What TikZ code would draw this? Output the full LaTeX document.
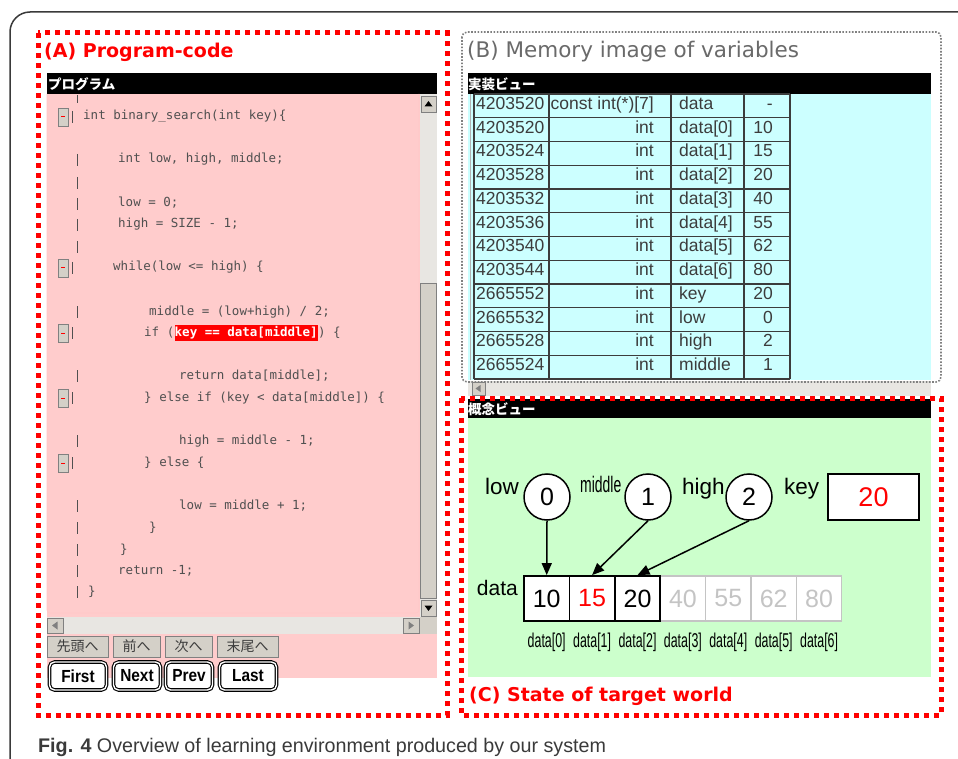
\documentclass[tikz,border=0pt]{standalone}
\usepackage{graphicx}
\usepackage{fontspec}
\setmainfont{Liberation Sans}
\newfontfamily\cjkfont{Noto Sans CJK JP}
\newfontfamily\codefont{DejaVu Sans Mono}
\newfontfamily\titlefont{DejaVu Sans}
\usetikzlibrary{arrows.meta}

\definecolor{pinkbg}{HTML}{FFCCCC}
\definecolor{cyanbg}{HTML}{CCFFFF}
\definecolor{greenbg}{HTML}{CCFFCC}
\definecolor{track}{HTML}{E8E6E2}
\definecolor{btn}{HTML}{D4D0C8}
\definecolor{btnedge}{HTML}{808080}
\definecolor{codegray}{HTML}{505050}
\definecolor{tablegray}{HTML}{3C3C3C}
\definecolor{titlegray}{HTML}{6A6A6A}
\definecolor{faded}{HTML}{C4C4C4}
\definecolor{framegray}{HTML}{3A3A3A}

\newcommand\narrowlabel[1]{\scalebox{0.62}[1]{#1}}

\tikzset{
  reddots/.style={draw=red, line width=5pt, dash pattern=on 5pt off 5pt},
  graydots/.style={draw=gray, line width=1.6pt, dash pattern=on 1.6pt off 1.6pt, rounded corners=5pt},
  barlabel/.style={anchor=west, inner sep=0pt, text=white, font=\cjkfont\bfseries\fontsize{13.5}{14}\selectfont},
  codeline/.style={anchor=west, inner sep=0pt, text height=9pt, text depth=3pt, text=codegray, font=\codefont\fontsize{12.5}{13}\selectfont},
  codebar/.style={draw=codegray, line width=0.9pt},
  foldbox/.style={draw=btnedge, fill=btn, line width=0.8pt},
  sbtrack/.style={fill=track},
  sbbutton/.style={fill=btn, draw=btnedge, line width=0.6pt},
  jpbutton/.style={fill=btn, draw=btnedge, line width=0.8pt, minimum height=21pt, inner sep=0pt, text=tablegray, font=\cjkfont\fontsize{14}{14}\selectfont},
  navbutton/.style={draw=black, double=white, double distance=1.4pt, line width=1.1pt, rounded corners=5pt, fill=white, minimum height=28pt, inner sep=0pt, font=\bfseries\fontsize{17.5}{17.5}\selectfont},
  celltext/.style={text height=9pt, text depth=3pt, inner sep=0pt, text=tablegray, font=\fontsize{17.5}{18}\selectfont},
  circ/.style={circle, draw=black, line width=1.5pt, fill=white, minimum size=46pt, inner sep=0pt, font=\fontsize{25}{25}\selectfont},
  cell/.style={draw=black, line width=1.8pt, fill=white, minimum width=45.4pt, minimum height=45pt, inner sep=0pt, font=\fontsize{25}{25}\selectfont},
  fadedcell/.style={cell, draw=faded, line width=1.2pt, text=faded},
  varname/.style={inner sep=0pt, font=\fontsize{22.5}{22.5}\selectfont},
  idxlabel/.style={inner sep=0pt, font=\fontsize{20}{20}\selectfont},
  pointer/.style={-{Triangle[length=12pt,width=10pt]}, line width=1.5pt},
  paneltitle/.style={anchor=west, inner sep=0pt, font=\titlefont\fontsize{19}{20}\selectfont}
}

\begin{document}
\begin{tikzpicture}[x=1pt,y=-1pt]
\useasboundingbox (0,0) rectangle (958,759);
\fill[white] (0,0) rectangle (958,759);

% outer figure frame, open to the right and bottom
\draw[framegray, line width=1.5pt, rounded corners=20pt] (10,765) -- (10,12) -- (965,12);

% ---------------- (A) program code window ----------------
\fill[pinkbg] (47,94) rectangle (437,678);
\fill[black] (47,73) rectangle (437,94);
\node[barlabel] (progbar) at (48,84) {プログラム};

% vertical scrollbar
\fill[sbtrack] (420,94) rectangle (437,617);
\draw[sbbutton] (421,96) rectangle (436,112);
\fill[black] (428.5,101) -- (424.5,106.5) -- (432.5,106.5) -- cycle;
\draw[fill=btn, draw=btnedge, line width=0.6pt] (420.5,283) rectangle (436,598);
\draw[sbbutton] (421,600) rectangle (436,616);
\fill[black] (428.5,611) -- (424.5,605.5) -- (432.5,605.5) -- cycle;
% horizontal scrollbar
\fill[sbtrack] (47,617) rectangle (420,634);
\fill[btn] (420,617) rectangle (437,634);
\draw[sbbutton] (47.5,618) rectangle (63,633);
\fill[gray] (52,625.5) -- (57.5,621.5) -- (57.5,629.5) -- cycle;
\draw[sbbutton] (403,618) rectangle (419,633);
\fill[gray] (414,625.5) -- (408.5,621.5) -- (408.5,629.5) -- cycle;
\draw[draw=pinkbg!80!red!60, line width=0.6pt, rounded corners=3pt] (47,94) -- (47,613) -- (419,613) -- (419,94);

% gutter marks
\draw[codebar] (77,95) -- (77,103);
\foreach \yy in {117,268,333,398,463} {
  \draw[foldbox] (58,\yy-9) rectangle (68,\yy+9);
  \draw[red, line width=1pt] (61,\yy) -- (65,\yy);
  \draw[codebar] (72,\yy-6) -- (72,\yy+6);
}
\foreach \yy in {160,183,204,225,247,312,376,441,506,528,550,571,592} {
  \draw[codebar] (77,\yy-6) -- (77,\yy+6);
}

% source lines
\node[codeline] (l01) at (83,117) {int binary\_search(int key)\{};
\node[codeline] (l02) at (118,160) {int low, high, middle;};
\node[codeline] (l03) at (118,204) {low = 0;};
\node[codeline] (l04) at (118,225) {high = SIZE - 1;};
\node[codeline] (l05) at (113,268) {while(low <= high) \{};
\node[codeline] (l06) at (149,312) {middle = (low+high) / 2;};
\node[codeline] (l07) at (144,333) {if (};
\node[codeline, fill=red, text=white, inner ysep=2pt, font=\codefont\bfseries\fontsize{12.5}{13}\selectfont] (hl) at (l07.east) {key == data[middle]};
\node[codeline] (l07b) at (hl.east) {) \{};
\node[codeline] (l08) at (179,376) {return data[middle];};
\node[codeline] (l09) at (144,398) {\} else if (key < data[middle]) \{};
\node[codeline] (l10) at (179,441) {high = middle - 1;};
\node[codeline] (l11) at (144,463) {\} else \{};
\node[codeline] (l12) at (179,506) {low = middle + 1;};
\node[codeline] (l13) at (149,528) {\}};
\node[codeline] (l14) at (120,550) {\}};
\node[codeline] (l15) at (118,571) {return -1;};
\node[codeline] (l16) at (88,592) {\}};

% navigation buttons
\node[jpbutton, minimum width=61pt] (jfirst) at (77.5,646.5) {先頭へ};
\node[jpbutton, minimum width=47pt] (jprev) at (136.5,646.5) {前へ};
\node[jpbutton, minimum width=47pt] (jnext) at (188.5,646.5) {次へ};
\node[jpbutton, minimum width=61pt] (jlast) at (247.5,646.5) {末尾へ};
\node[navbutton, minimum width=57pt] (bfirst) at (78,676) {\scalebox{0.88}[1]{First}};
\node[navbutton, minimum width=47pt] (bnext) at (137,676) {\scalebox{0.88}[1]{Next}};
\node[navbutton, minimum width=47pt] (bprev) at (189,676) {\scalebox{0.88}[1]{Prev}};
\node[navbutton, minimum width=57pt] (blast) at (248,676) {\scalebox{0.88}[1]{Last}};

\draw[reddots] (38,33) rectangle (447,715);
\node[paneltitle, text=red, font=\titlefont\bfseries\fontsize{19}{20}\selectfont] (titleA) at (44,52) {(A) Program-code};

% ---------------- (B) memory image ----------------
\fill[black] (468,73) rectangle (931,94);
\node[barlabel] (implbar) at (468,84) {実装ビュー};
\fill[cyanbg] (468,94) rectangle (931,380);
\draw[gray!60, line width=0.8pt] (470,94) -- (470,380);
\fill[sbtrack] (468,381) rectangle (931,396);
\draw[sbbutton] (472,382) rectangle (485,395);
\fill[gray] (475.5,388.5) -- (480.5,385) -- (480.5,392) -- cycle;

\foreach \i/\addr/\typ/\nm/\val in {
  0/4203520/{const int(*)[7]}/data/-,
  1/4203520/int/{data[0]}/10,
  2/4203524/int/{data[1]}/15,
  3/4203528/int/{data[2]}/20,
  4/4203532/int/{data[3]}/40,
  5/4203536/int/{data[4]}/55,
  6/4203540/int/{data[5]}/62,
  7/4203544/int/{data[6]}/80,
  8/2665552/int/key/20,
  9/2665532/int/low/0,
  10/2665528/int/high/2,
  11/2665524/int/middle/1} {
  \pgfmathsetmacro\yc{94+23.75*\i+12.4}
  \node[celltext, anchor=west] (addr\i) at (476,\yc) {\addr};
  \node[celltext, anchor=east] (type\i) at (654,\yc) {\typ};
  \node[celltext, anchor=west] (name\i) at (679,\yc) {\nm};
  \node[celltext, anchor=east] (val\i) at (773,\yc) {\val};
}
\foreach \k in {0,...,12} {
  \draw[tablegray, line width=1.3pt] (474,94+23.75*\k) -- (790,94+23.75*\k);
}
\foreach \xx in {474,549,671,744,790} {
  \draw[tablegray, line width=1.3pt] (\xx,94) -- (\xx,379);
}

\draw[graydots] (462,32) rectangle (941,382);
\node[paneltitle, text=titlegray, font=\titlefont\fontsize{21.5}{22}\selectfont] (titleB) at (467,52) {(B) Memory image of variables};

% ---------------- (C) state of target world ----------------
\fill[black] (468,399) rectangle (931,418);
\node[barlabel] (conbar) at (468,409) {概念ビュー};
\fill[greenbg] (468,418) rectangle (931,677);

% array cells
\foreach \k/\v in {3/40,4/55,5/62,6/80} {
  \node[fadedcell] (d\k) at (546.7+45.4*\k,598.5) {\v};
}
\node[cell] (d0) at (546.7,598.5) {10};
\node[cell, text=red] (d1) at (592.1,598.5) {15};
\node[cell] (d2) at (637.5,598.5) {20};
\foreach \k in {0,...,6} {
  \node[idxlabel] (ix\k) at (546.7+45.4*\k,642) {\narrowlabel{data[\k]}};
}
\node[varname, anchor=base east, font=\fontsize{21}{21}\selectfont] (lbldata) at (518,595) {data};

% index variables
\node[circ] (c0) at (547,497) {0};
\node[circ] (c1) at (648,497) {1};
\node[circ] (c2) at (749,497) {2};
\node[varname, anchor=base east] (lbllow) at (519,494) {low};
\node[varname, anchor=base west] (lblmid) at (580,492) {\narrowlabel{middle}};
\node[varname, anchor=base west] (lblhigh) at (682,494) {high};
\node[varname, anchor=base west] (lblkey) at (784,494) {key};
\node[draw=black, line width=2pt, fill=white, minimum width=91pt, minimum height=46pt, inner sep=0pt, text=red, font=\fontsize{27}{27}\selectfont] (keybox) at (873.5,497) {20};

\draw[pointer] (c0.south) -- (d0.north);
\draw[pointer] (c1.south) -- (d1.north);
\draw[pointer] (c2.south) -- (d2.north);

\draw[reddots] (461,398) rectangle (941,715);
\node[paneltitle, text=red, font=\titlefont\bfseries\fontsize{19}{20}\selectfont] (titleC) at (469,696) {(C) State of target world};

% caption
\node[anchor=base west, inner sep=0pt, text=framegray, font=\fontsize{19.7}{20}\selectfont] (caption) at (38,752) {\textbf{Fig. 4} Overview of learning environment produced by our system};
\end{tikzpicture}
\end{document}
